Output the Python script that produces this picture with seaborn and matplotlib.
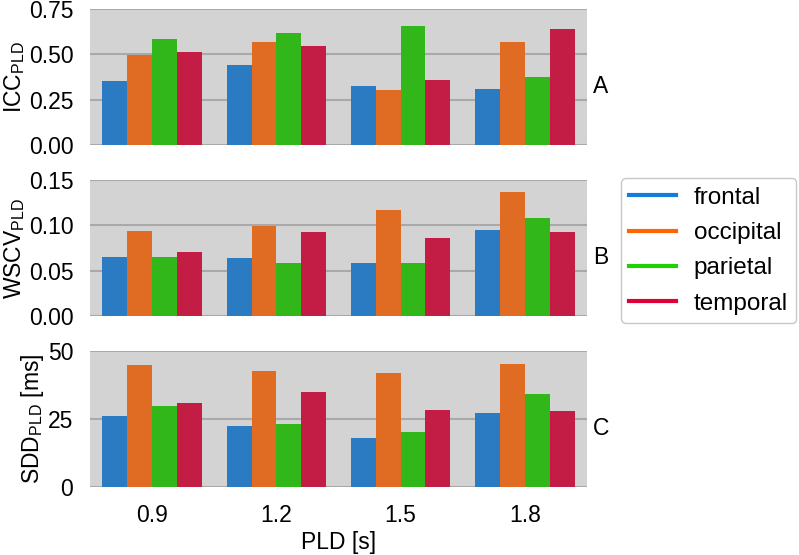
import pandas as pd
import seaborn as sns
import matplotlib.pyplot as plt
from matplotlib.lines import Line2D

# valores
pld = ['0.9', '1.2', '1.5', '1.8']
regioes = ['frontal', 'occipital', 'parietal', 'temporal']

icc_frontal = [0.353, 0.440, 0.327, 0.307]
icc_occipital = [0.496, 0.568, 0.303, 0.568]
icc_parietal = [0.585, 0.616, 0.655, 0.373]
icc_temporal = [0.511, 0.544, 0.357, 0.640]

wscv_frontal = [0.065, 0.064, 0.058, 0.095]
wscv_occipital = [0.094, 0.099, 0.117, 0.137]
wscv_parietal = [0.065, 0.059, 0.058, 0.108]
wscv_temporal = [0.071, 0.093, 0.086, 0.093]

sdd_frontal = [26.1, 22.4, 17.9, 27.3]
sdd_occipital = [44.9, 42.5, 42.0, 45.2]
sdd_parietal = [29.7, 23.2, 20.2, 34.2]
sdd_temporal = [30.8, 34.9, 28.4, 27.8]

cores = ['#127ddc', '#ff6403', '#1fd100', '#df0037']


"""
monta um dataframe no formato longo a partir das listas de cada regiao
"""
def montar_df(listas):
    linhas = []
    for regiao, valores in zip(regioes, listas):
        for p, v in zip(pld, valores):
            linhas.append({'PLD': p, 'regiao': regiao, 'valor': v})
    return pd.DataFrame(linhas)


paineis = [
    (montar_df([icc_frontal, icc_occipital, icc_parietal, icc_temporal]),
     r'ICC$_\mathregular{PLD}$', [0, 0.25, 0.5, 0.75], ['0.00', '0.25', '0.50', '0.75'], 'A'),
    (montar_df([wscv_frontal, wscv_occipital, wscv_parietal, wscv_temporal]),
     r'WSCV$_\mathregular{PLD}$', [0, 0.05, 0.1, 0.15], ['0.00', '0.05', '0.10', '0.15'], 'B'),
    (montar_df([sdd_frontal, sdd_occipital, sdd_parietal, sdd_temporal]),
     r'SDD$_\mathregular{PLD}$ [ms]', [0, 25, 50], ['0', '25', '50'], 'C'),
]

plt.rcParams['font.family'] = ['Liberation Sans', 'DejaVu Sans']
plt.rcParams['mathtext.default'] = 'regular'
plt.rcParams['font.size'] = 16.5

fig, axes = plt.subplots(3, 1, figsize=(7.99, 5.55), dpi=100, sharex=True)
fig.subplots_adjust(left=0.1126, right=0.7347, top=0.9838, bottom=0.1225, hspace=0.257)

for ax, (df, ylabel, ticks, ticklabels, letra) in zip(axes, paineis):
    sns.barplot(data=df, x='PLD', y='valor', hue='regiao', palette=cores,
                legend=False, ax=ax, linewidth=0)
    ax.set_facecolor('lightgray')
    ax.set_ylim(ticks[0], ticks[-1])
    ax.set_yticks(ticks)
    ax.set_yticklabels(ticklabels)
    ax.grid(axis='y', color='darkgray', linewidth=1.5)
    ax.set_axisbelow(True)
    for s in ax.spines.values():
        s.set_visible(False)
    ax.tick_params(length=0, pad=12)
    ax.set_ylabel(ylabel, labelpad=1.5)
    ax.set_xlabel('')
    ax.text(1.012, 0.43, letra, transform=ax.transAxes, va='center', ha='left')

axes[-1].set_xlabel('PLD [s]', labelpad=3)

handles = [Line2D([0], [0], color=c, lw=3) for c in cores]
fig.legend(handles, regioes, loc='upper left', bbox_to_anchor=(0.777, 0.679),
           borderaxespad=0, handlelength=1.9, handletextpad=0.75, borderpad=0.35,
           labelspacing=0.55, frameon=True, edgecolor='#bbbbbb', fancybox=True,
           fontsize=17.5)

plt.savefig('out.png', dpi=100)
